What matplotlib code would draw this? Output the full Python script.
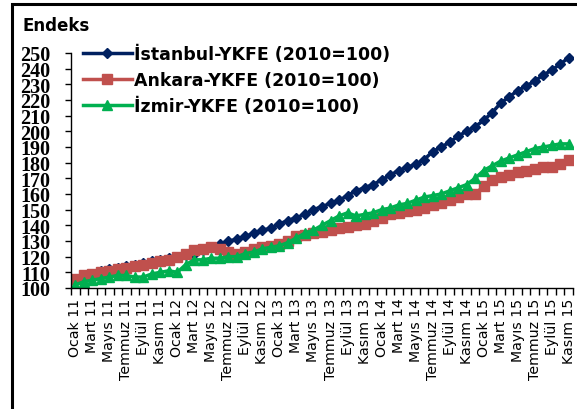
import numpy as np
import matplotlib
matplotlib.use("Agg")
import matplotlib.pyplot as plt
from matplotlib.patches import Rectangle

# aylik veriler, Ocak 2011 - Kasim 2015
months = ["Ocak", "Şubat", "Mart", "Nisan", "Mayıs", "Haziran",
          "Temmuz", "Ağustos", "Eylül", "Ekim", "Kasım", "Aralık"]
years = ["11", "12", "13", "14", "15"]

istanbul = [105, 107, 109, 111, 112, 113, 114, 115, 116, 117, 118, 119,
            120, 121, 122, 124, 126, 128, 130, 131, 133, 135, 137, 138,
            141, 143, 145, 147, 150, 152, 154, 156, 159, 162, 164, 166,
            169, 172, 175, 177, 179, 182, 187, 190, 193, 197, 200, 203,
            207, 212, 218, 222, 226, 229, 232, 236, 239, 243, 247]
ankara = [106, 108, 109, 110, 111, 112, 113, 114, 115, 116, 117, 118,
          120, 122, 124, 125, 126, 125, 123, 122, 123, 125, 126, 127,
          128, 130, 133, 134, 135, 136, 137, 138, 139, 140, 141, 143,
          145, 147, 148, 149, 150, 151, 153, 154, 156, 158, 160, 160,
          165, 169, 171, 172, 174, 175, 176, 177, 177, 179, 182]
izmir = [102, 104, 105, 106, 107, 108, 108, 107, 107, 109, 110, 111,
         110, 115, 118, 118, 119, 119, 120, 120, 122, 123, 125, 126,
         127, 129, 132, 135, 137, 140, 143, 146, 148, 146, 147, 148,
         150, 151, 153, 154, 156, 158, 159, 160, 162, 164, 166, 170,
         175, 178, 181, 183, 185, 187, 189, 190, 191, 192, 192]

series_names = ["İstanbul-YKFE (2010=100)", "Ankara-YKFE (2010=100)",
                "İzmir-YKFE (2010=100)"]

labels = []
for y in years:
    for m in months:
        labels.append(m + " " + y)
labels = labels[:len(istanbul)]
x = np.arange(len(istanbul))

W, H = 577, 410
fig = plt.figure(figsize=(W / 100, H / 100), dpi=100)
ax = fig.add_axes([71 / W, 1 - 289 / H, (573 - 71) / W, (289 - 54) / H])

ax.plot(x, istanbul, color="#002060", lw=2.5, marker="D", ms=5.5,
        label=series_names[0])
ax.plot(x, ankara, color="#C0504D", lw=2.5, marker="s", ms=6.5,
        label=series_names[1])
ax.plot(x, izmir, color="#00B050", lw=2.5, marker="^", ms=7.5,
        label=series_names[2])

ax.set_xlim(-0.5, len(x) - 0.5)
ax.set_ylim(100, 250)
ax.set_yticks(range(100, 251, 10))
ax.set_yticklabels([str(v) for v in range(100, 251, 10)],
                   fontfamily="Liberation Serif", fontweight="bold", fontsize=14.5)
ax.tick_params(axis="y", direction="out", length=4, width=1, pad=11)

ax.set_xticks(x[::2])
ax.set_xticklabels(labels[::2], rotation=90, fontsize=10.2)
ax.set_xticks(np.arange(-0.5, len(x), 1), minor=True)
ax.tick_params(axis="x", which="major", length=0, pad=7)
ax.tick_params(axis="x", which="minor", direction="out", length=5, width=1)

for s in ["top", "right"]:
    ax.spines[s].set_visible(False)
for s in ["left", "bottom"]:
    ax.spines[s].set_linewidth(1)
    ax.spines[s].set_color("black")

leg = ax.legend(loc="upper left", bbox_to_anchor=(0.0, 1.085), frameon=False,
                prop={"weight": "bold", "size": 12.5}, handlelength=2.8,
                handletextpad=0.15, labelspacing=0.45, borderaxespad=0.3)

fig.text(22 / W, 1 - 26 / H, "Endeks", fontweight="bold", fontsize=12,
         va="center", ha="left")

# dis cerceve
fig.add_artist(Rectangle((12 / W, -0.2), 1.2, 1.2 - 5 / H,
                         transform=fig.transFigure, fill=False,
                         lw=2.2, ec="black", clip_on=False))

fig.savefig("out.png", dpi=100)
